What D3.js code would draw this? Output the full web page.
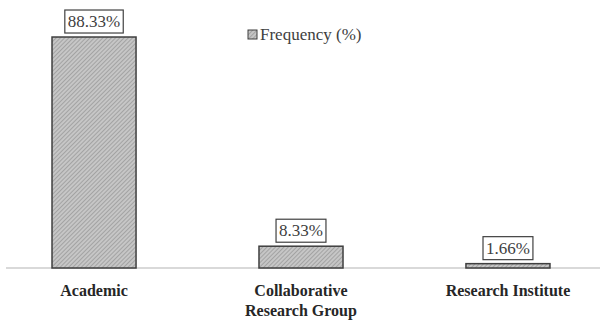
<!DOCTYPE html>
<html>
<head>
<meta charset="utf-8">
<script src="https://cdn.jsdelivr.net/npm/d3@7"></script>
<style>
  html, body { margin: 0; padding: 0; background: #fff; }
  svg { display: block; }
</style>
</head>
<body>
<script>
// Affiliation categories and their share of publications (%)
const categories = ["Academic", "Collaborative Research Group", "Research Institute"];
const categoryLines = [["Academic"], ["Collaborative", "Research Group"], ["Research Institute"]];
const frequency = [88.33, 8.33, 1.66];
const seriesName = "Frequency (%)";

const W = 602, H = 320;
const baseY = 268;
const serif = "Liberation Serif";

const svg = d3.select("body").append("svg").attr("width", W).attr("height", H);

// Fine diagonal hatch fill for the bars
const defs = svg.append("defs");
const pat = defs.append("pattern")
  .attr("id", "hatch")
  .attr("patternUnits", "userSpaceOnUse")
  .attr("width", 3).attr("height", 3)
  .attr("patternTransform", "rotate(45)");
pat.append("rect").attr("width", 3).attr("height", 3).attr("fill", "#c6c6c6");
pat.append("line").attr("x1", 0).attr("y1", 0).attr("x2", 0).attr("y2", 3)
  .attr("stroke", "#8c8c8c").attr("stroke-width", 1.2);

const x = d3.scaleBand()
  .domain(categories)
  .range([4, 598])
  .paddingInner(0.594)
  .paddingOuter(0.232);

const y = d3.scaleLinear()
  .domain([0, 100])
  .range([baseY, baseY - 261.5]);

// Baseline
svg.append("line")
  .attr("x1", 6).attr("x2", 600)
  .attr("y1", baseY).attr("y2", baseY)
  .attr("stroke", "#d9d9d9").attr("stroke-width", 2);

// Bars
svg.selectAll("rect.bar")
  .data(categories)
  .join("rect")
  .attr("class", "bar")
  .attr("x", d => x(d))
  .attr("y", (d, i) => y(frequency[i]))
  .attr("width", x.bandwidth())
  .attr("height", (d, i) => baseY - y(frequency[i]))
  .attr("fill", "url(#hatch)")
  .attr("stroke", "#3f3f3f")
  .attr("stroke-width", 1.5);

// Value labels in boxes
svg.selectAll("g.vlabel")
  .data(categories)
  .join("g")
  .attr("class", "vlabel")
  .each(function(d, i) {
    const g = d3.select(this);
    const cx = x(d) + x.bandwidth() / 2;
    const top = y(frequency[i]);
    const t = g.append("text")
      .attr("x", cx)
      .attr("y", top - 10)
      .attr("text-anchor", "middle")
      .style("font-family", serif)
      .attr("font-size", 17)
      .attr("fill", "#404040")
      .text(frequency[i].toFixed(2) + "%");
    const bb = t.node().getBBox();
    g.insert("rect", "text")
      .attr("x", bb.x - 3)
      .attr("y", top - 27)
      .attr("width", bb.width + 6)
      .attr("height", 23)
      .attr("fill", "#fff")
      .attr("stroke", "#404040")
      .attr("stroke-width", 1.2);
  });

// Category axis labels
svg.selectAll("text.cat")
  .data(categories)
  .join("text")
  .attr("class", "cat")
  .attr("x", d => x(d) + x.bandwidth() / 2)
  .attr("y", 296)
  .attr("text-anchor", "middle")
  .style("font-family", serif)
  .attr("font-weight", "bold")
  .attr("font-size", 16)
  .attr("fill", "#262626")
  .each(function(d, i) {
    const t = d3.select(this);
    categoryLines[i].forEach((line, k) => {
      t.append("tspan")
        .attr("x", x(d) + x.bandwidth() / 2)
        .attr("dy", k === 0 ? 0 : 20)
        .text(line);
    });
  });

// Legend
const legend = svg.append("g").attr("transform", "translate(248,30)");
legend.append("rect")
  .attr("width", 9).attr("height", 9)
  .attr("fill", "url(#hatch)")
  .attr("stroke", "#3f3f3f").attr("stroke-width", 1);
legend.append("text")
  .attr("x", 12).attr("y", 10)
  .style("font-family", serif)
  .attr("font-size", 17)
  .attr("fill", "#404040")
  .text(seriesName);
</script>
</body>
</html>
